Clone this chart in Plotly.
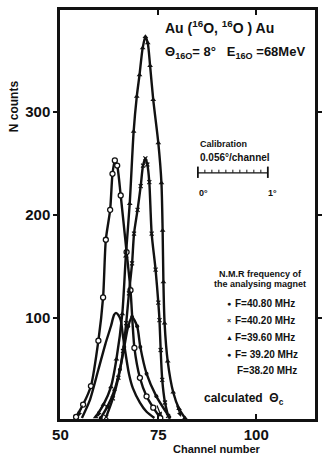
import plotly.graph_objects as go

# ---------------- data ----------------
# F = 39.20 MHz (open circles)
x_3920 = [54.0, 55.8, 57.8, 59.7, 60.9, 61.6, 62.7, 63.3, 63.9, 64.5, 65.4, 66.9, 67.9, 68.9, 70.3, 72.0, 73.7, 75.5]
y_3920 = [4, 16, 34, 78, 120, 176, 205, 240, 253, 248, 219, 164, 127, 71, 42, 24, 13, 3]
# F = 38.20 MHz (no markers)
x_3820 = [55.5, 57.5, 59.7, 61.5, 62.9, 63.7, 64.2, 64.8, 65.4, 66.1, 67.5, 68.5, 70.3, 72.0, 74.0]
y_3820 = [3, 20, 50, 75, 92, 103, 105, 103, 98, 79, 46, 32, 18, 9, 3]
# F = 39.60 MHz (triangles)
x_3960 = [59.0, 61.0, 62.9, 64.3, 65.8, 66.7, 67.7, 68.7, 69.5, 70.2, 71.0, 71.7, 72.3, 72.9, 73.7, 75.0,
          75.8, 76.1, 76.3, 76.6, 77.4, 78.8, 80.3, 81.8]
y_3960 = [4, 16, 33, 60, 104, 160, 211, 281, 315, 336, 362, 373, 367, 345, 312, 270,
          231, 185, 135, 95, 58, 28, 12, 3]
# F = 40.20 MHz (crosses)
x_4020 = [61.7, 63.4, 64.8, 66.0, 66.8, 67.5, 68.3, 68.8, 69.7, 70.5, 71.1, 71.7, 72.2, 72.7, 73.3, 74.3,
          75.0, 75.3, 75.6, 76.0, 76.7, 77.5]
y_4020 = [4, 22, 42, 68, 95, 124, 153, 182, 205, 228, 248, 255, 249, 232, 182, 147,
          115, 98, 69, 40, 18, 5]
# F = 40.80 MHz (filled circles)
x_4080 = [60.3, 62.0, 63.8, 65.2, 66.3, 67.3, 68.3, 69.6, 70.4, 72.0, 74.5, 77.8]
y_4080 = [3, 14, 30, 50, 72, 92, 101, 92, 72, 46, 24, 4]

x_ticks = [50, 75, 100]
y_ticks = [100, 200, 300]
legend_labels = ["F=40.80 MHz", "F=40.20 MHz", "F=39.60 MHz", "F= 39.20 MHz", "F=38.20 MHz"]
legend_symbols = ["\u25cf", "\u00d7", "\u25b2", "\u25cf", ""]

cal_start = 85.1
deg_per_channel = 0.056
cal_y = 241
calc_arrow_x = [54.5, 59.5, 75.8, 80.8]

# ---------------- layout helpers ----------------
W, H = 323, 455
L, R, T, B = 60, 1, 10, 36
PW, PH = W - L - R, H - T - B


def pxx(x):
    return (x - L) / PW


def pxy(y):
    return (H - B - y) / PH


FONT = "Liberation Sans"
BLK = "#111111"

fig = go.Figure()

line = dict(color=BLK, width=2.4, shape="spline", smoothing=0.7)

fig.add_trace(go.Scatter(x=x_3920, y=y_3920, mode="lines+markers", line=line,
                         marker=dict(symbol="circle", size=5, color="white",
                                     line=dict(color=BLK, width=1.3))))
fig.add_trace(go.Scatter(x=x_3820, y=y_3820, mode="lines", line=line))
fig.add_trace(go.Scatter(x=x_3960, y=y_3960, mode="lines+markers", line=line,
                         marker=dict(symbol="triangle-up", size=5, color=BLK)))
fig.add_trace(go.Scatter(x=x_4020, y=y_4020, mode="lines+markers", line=line,
                         marker=dict(symbol="x-thin", size=4, color=BLK,
                                     line=dict(color=BLK, width=1.2))))
fig.add_trace(go.Scatter(x=x_4080, y=y_4080, mode="lines+markers", line=line,
                         marker=dict(symbol="circle", size=4, color=BLK)))

# calibration scale bar (in channel units)
cal_end = cal_start + 1.0 / deg_per_channel
n_sub = 10
shapes = []
shapes.append(dict(type="line", xref="x", yref="y", x0=cal_start, x1=cal_end,
                   y0=cal_y, y1=cal_y, line=dict(color=BLK, width=1.3)))
for xe in (cal_start, cal_end):
    shapes.append(dict(type="line", xref="x", yref="y", x0=xe, x1=xe,
                       y0=cal_y - 5, y1=cal_y + 6, line=dict(color=BLK, width=1.8)))
for i in range(1, n_sub):
    xs = cal_start + i * (cal_end - cal_start) / n_sub
    shapes.append(dict(type="line", xref="x", yref="y", x0=xs, x1=xs,
                       y0=cal_y, y1=cal_y + 3, line=dict(color=BLK, width=1)))

ann = []


def text(x, y, s, size, anchor="left", bold=True):
    ann.append(dict(xref="paper", yref="paper", x=pxx(x), y=pxy(y), text=s,
                    showarrow=False, xanchor=anchor, yanchor="middle",
                    font=dict(family=FONT, size=size, color=BLK,
                              weight="bold" if bold else "normal")))


text(166, 27, "Au (<sup>16</sup>O, <sup>16</sup>O ) Au", 14)
text(166, 53, "\u0398<sub>16O</sub>= 8\u00b0   E<sub>16O</sub> =68MeV", 13)
text(202, 144, "Calibration", 9)
text(202, 157, "0.056\u00b0/channel", 10)
text(201, 193, "0\u00b0", 9)
text(272, 193, "1\u00b0", 9)
text(221, 274, "N.M.R frequency of", 9)
text(216, 284, "the analysing magnet", 9)
ly = [303, 320, 337, 354, 370]
for s, sym, yy in zip(legend_labels, legend_symbols, ly):
    if sym:
        text(234, yy, sym, 7, anchor="center")
    text(238 if sym else 240, yy, s, 10)
text(206, 399, "calculated  \u0398<sub>c</sub>", 12)
text(221, 449, "Channel number", 11)
ann[-1]["xanchor"] = "center"

ann.append(dict(xref="paper", yref="paper", x=pxx(13), y=pxy(106), text="N counts",
                showarrow=False, textangle=-90, xanchor="center", yanchor="middle",
                font=dict(family=FONT, size=12, color=BLK, weight="bold")))

# calculated theta_c arrows
for i, xa in enumerate(calc_arrow_x):
    dx = 5 if i < 2 else -5
    ann.append(dict(xref="x", yref="y", x=xa, y=4, ax=dx, ay=-13, axref="pixel", ayref="pixel",
                    showarrow=True, arrowhead=2, arrowsize=0.8, arrowwidth=1.2,
                    arrowcolor=BLK, text=""))

fig.update_layout(
    width=W, height=H, margin=dict(l=L, r=R, t=T, b=B),
    paper_bgcolor="white", plot_bgcolor="white", showlegend=False,
    shapes=shapes, annotations=ann,
    font=dict(family=FONT, color=BLK),
)
fig.update_xaxes(range=[49.9, 115], tickvals=x_ticks, ticks="inside", ticklen=5,
                 tickwidth=1.5, tickcolor=BLK, showline=True, linecolor=BLK, linewidth=2.5,
                 mirror="allticks", showgrid=False, zeroline=False,
                 tickfont=dict(family=FONT, size=15, color=BLK, weight="bold"))
fig.update_yaxes(range=[2, 399], tickvals=y_ticks, ticks="outside", ticklen=4,
                 tickwidth=1.5, tickcolor=BLK, showline=True, linecolor=BLK, linewidth=2.5,
                 mirror="allticks", showgrid=False, zeroline=False,
                 tickfont=dict(family=FONT, size=15, color=BLK, weight="bold"))

fig.write_html("out.html")
